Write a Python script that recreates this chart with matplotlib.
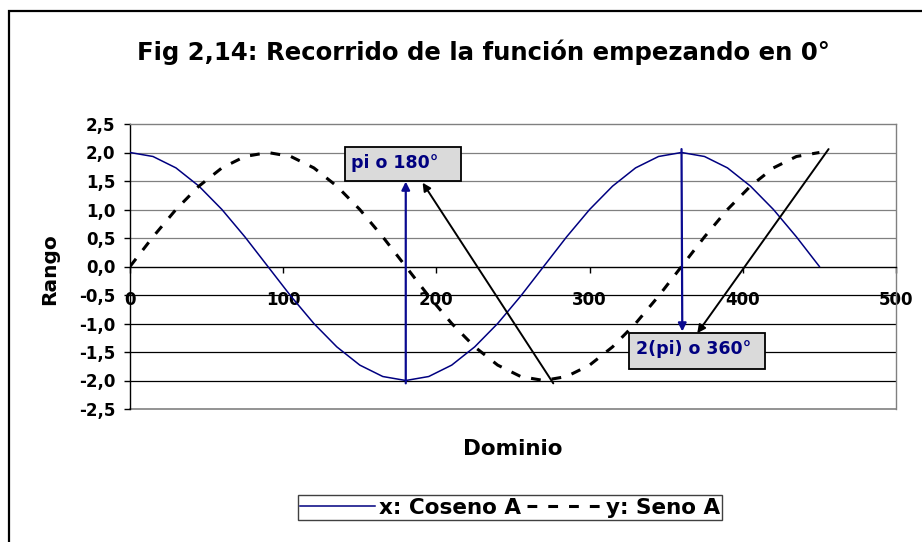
import matplotlib
matplotlib.use("Agg")
import matplotlib.pyplot as plt
from matplotlib.patches import Rectangle
from matplotlib.ticker import FixedLocator, FixedFormatter

# ---------------- data ----------------
angles = [0, 15, 30, 45, 60, 75, 90, 105, 120, 135, 150, 165, 180, 195, 210, 225,
          240, 255, 270, 285, 300, 315, 330, 345, 360, 375, 390, 405, 420, 435, 450]
coseno = [2.0, 1.93, 1.73, 1.41, 1.0, 0.52, 0.0, -0.52, -1.0, -1.41, -1.73, -1.93, -2.0,
          -1.93, -1.73, -1.41, -1.0, -0.52, 0.0, 0.52, 1.0, 1.41, 1.73, 1.93, 2.0,
          1.93, 1.73, 1.41, 1.0, 0.52, 0.0]
seno = [0.0, 0.52, 1.0, 1.41, 1.73, 1.93, 2.0, 1.93, 1.73, 1.41, 1.0, 0.52, 0.0,
        -0.52, -1.0, -1.41, -1.73, -1.93, -2.0, -1.93, -1.73, -1.41, -1.0, -0.52, 0.0,
        0.52, 1.0, 1.41, 1.73, 1.93, 2.0]
series_names = ["x: Coseno A", "y: Seno A"]
xticks = [0, 100, 200, 300, 400, 500]
xtick_labels = ["0", "100", "200", "300", "400", "500"]
yticks = [-2.5, -2.0, -1.5, -1.0, -0.5, 0.0, 0.5, 1.0, 1.5, 2.0, 2.5]
ytick_labels = ["-2,5", "-2,0", "-1,5", "-1,0", "-0,5", "0,0", "0,5", "1,0", "1,5", "2,0", "2,5"]
title = "Fig 2,14: Recorrido de la función empezando en 0°"
xlabel = "Dominio"
ylabel = "Rango"
box_labels = ["pi o 180°", "2(pi) o 360°"]

FONT = "DejaVu Sans"
NAVY = "#000080"

fig = plt.figure(figsize=(9.22, 5.42), dpi=100)
fig.patch.set_facecolor("white")

# outer chart border (only left/top visible)
fig.add_artist(Rectangle((8.5 / 922, -0.2), 1.5, 1.2 - 10.5 / 542,
                         transform=fig.transFigure, fill=False, ec="black", lw=1.6,
                         clip_on=False))

ax = fig.add_axes([130 / 922, 1 - 409 / 542, (896 - 130) / 922, (409 - 124) / 542])
ax.set_xlim(0, 500)
ax.set_ylim(-2.5, 2.5)

# gridlines
for yv in yticks:
    if -2.5 < yv < 2.5 and yv != 0:
        ax.axhline(yv, color="#808080" if yv > 0 else "black", lw=0.9, zorder=1)

for side in ["top", "right"]:
    ax.spines[side].set_color("#808080")
    ax.spines[side].set_linewidth(1.0)
ax.spines["left"].set_color("black")
ax.spines["left"].set_linewidth(1.0)
ax.spines["bottom"].set_position(("data", 0))
ax.spines["bottom"].set_color("black")
ax.spines["bottom"].set_linewidth(1.0)
# bottom border of plot area
ax.axhline(-2.5, color="#808080", lw=1.2, zorder=1, clip_on=False)

ax.xaxis.set_major_locator(FixedLocator(xticks))
ax.xaxis.set_major_formatter(FixedFormatter(xtick_labels))
ax.yaxis.set_major_locator(FixedLocator(yticks))
ax.yaxis.set_major_formatter(FixedFormatter(ytick_labels))
ax.tick_params(axis="x", direction="out", length=4, width=1, pad=13.5,
               labelsize=12, color="black")
ax.tick_params(axis="y", direction="out", length=4.5, width=1, pad=6,
               labelsize=12, color="black")
for lab in ax.get_xticklabels() + ax.get_yticklabels():
    lab.set_fontweight("bold")
    lab.set_family(FONT)

l1, = ax.plot(angles, coseno, color=NAVY, lw=1.1, zorder=3, label=series_names[0])
l2, = ax.plot(angles, seno, color="black", lw=2.2, dashes=(3.2, 3.6), zorder=3,
              label=series_names[1])

# annotation boxes
ax.add_patch(Rectangle((140.3, 1.5), 215.8 - 140.3, 2.10 - 1.5, fc="#dadada",
                       ec="black", lw=1.3, zorder=5))
ax.text(144.5, 1.82, box_labels[0], color=NAVY, fontsize=12.5, fontweight="bold",
        family=FONT, ha="left", va="center", zorder=6)
ax.add_patch(Rectangle((325.9, -1.80), 414.2 - 325.9, 0.64, fc="#dadada",
                       ec="black", lw=1.3, zorder=5, clip_on=False))
ax.text(330.3, -1.45, box_labels[1], color=NAVY, fontsize=12.5, fontweight="bold",
        family=FONT, ha="left", va="center", zorder=6)

def arrow(x0, y0, x1, y1, color, lw):
    ax.annotate("", xy=(x1, y1), xytext=(x0, y0),
                arrowprops=dict(arrowstyle="-|>", color=color, lw=lw,
                                mutation_scale=12, shrinkA=0, shrinkB=0),
                zorder=7, annotation_clip=False)

arrow(180, -2.05, 180, 1.49, "#0a0a90", 1.6)
arrow(276.3, -2.05, 191, 1.47, "black", 1.4)
arrow(360, 2.06, 360.5, -1.14, "#0a0a90", 1.6)
arrow(456, 2.06, 370.3, -1.17, "black", 1.4)

# texts
fig.text(483 / 922, 1 - 52 / 542, title, ha="center", va="center", fontsize=17.6,
         fontweight="bold", family=FONT)
fig.text(50 / 922, 1 - 269 / 542, ylabel, rotation=90, ha="center", va="center",
         fontsize=14.5, fontweight="bold", family=FONT)
fig.text(513 / 922, 1 - 449 / 542, xlabel, ha="center", va="center", fontsize=15.5,
         fontweight="bold", family=FONT)

leg = fig.legend(handles=[l1, l2], labels=series_names, loc="center",
                 bbox_to_anchor=(510 / 922, 1 - 507.5 / 542), ncol=2,
                 prop={"family": FONT, "weight": "bold", "size": 15.5},
                 handlelength=3.5, handletextpad=0.15, columnspacing=0.3,
                 borderpad=0.12, fancybox=False, shadow=False, framealpha=1,
                 edgecolor="#404040", borderaxespad=0)
leg.get_frame().set_linewidth(1.0)

fig.savefig("out.png", dpi=100, facecolor="white")
